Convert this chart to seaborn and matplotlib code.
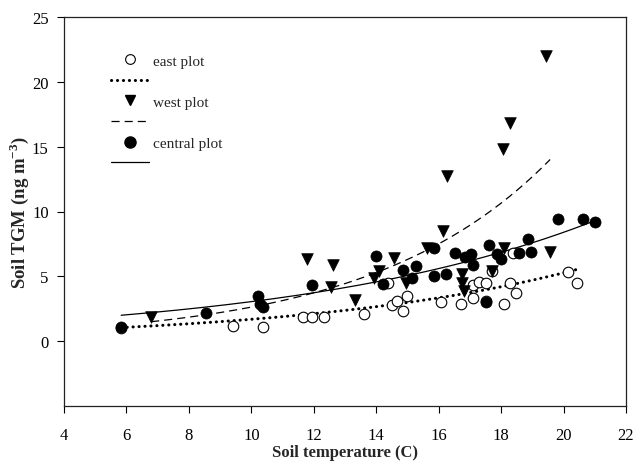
import numpy as np
import pandas as pd
import matplotlib
matplotlib.use("Agg")
import matplotlib.pyplot as plt
import seaborn as sns
from matplotlib.lines import Line2D

# ---- data ----
east_x = [5.83, 9.41, 10.37, 11.66, 11.94, 12.33, 13.61, 14.38, 14.51, 14.67, 14.86, 14.99,
          16.08, 16.72, 17.10, 17.10, 17.29, 17.52, 17.52, 17.71, 18.09, 18.29, 18.48, 18.38,
          20.14, 20.43]
east_y = [1.05, 1.15, 1.10, 1.85, 1.90, 1.90, 2.10, 4.50, 2.80, 3.10, 2.30, 3.50,
          3.00, 2.85, 4.30, 3.30, 4.60, 4.50, 3.10, 5.40, 2.85, 4.50, 3.70, 6.80,
          5.30, 4.50]

west_x = [6.79, 11.78, 12.55, 12.62, 13.32, 13.93, 14.09, 14.57, 14.95, 15.63, 16.14,
          16.27, 16.75, 16.75, 16.80, 17.71, 18.06, 18.09, 18.29, 19.44, 19.57]
west_y = [1.85, 6.30, 4.20, 5.90, 3.15, 4.85, 5.40, 6.45, 4.45, 7.20, 8.50,
          12.75, 5.20, 4.50, 3.90, 5.40, 14.85, 7.15, 16.80, 22.00, 6.90]

central_x = [5.83, 8.55, 10.20, 10.28, 10.37, 11.94, 13.99, 14.22, 14.86, 15.15, 15.27,
             15.85, 15.85, 16.24, 16.52, 16.84, 17.04, 17.10, 17.52, 17.61, 17.87, 18.00,
             18.57, 18.86, 18.96, 19.82, 20.62, 21.00]
central_y = [1.08, 2.15, 3.45, 2.90, 2.60, 4.30, 6.60, 4.40, 5.50, 4.85, 5.80,
             7.20, 5.00, 5.20, 6.80, 6.50, 6.70, 5.90, 3.05, 7.40, 6.70, 6.30,
             6.80, 7.90, 6.90, 9.40, 9.45, 9.20]

# exponential regression curves y = a * exp(b * x)
east_fit = (0.540, 0.1139)
west_fit = (0.457, 0.1749)
central_fit = (1.107, 0.1013)

x_ticks = [4, 6, 8, 10, 12, 14, 16, 18, 20, 22]
y_ticks = [0, 5, 10, 15, 20, 25]
legend_labels = ["east plot", "", "west plot", "", "central plot", ""]

# ---- style ----
sns.set_theme(style="ticks")
plt.rcParams['font.family'] = ['Liberation Serif', 'DejaVu Serif']
plt.rcParams['mathtext.fontset'] = 'custom'
plt.rcParams['mathtext.rm'] = 'Liberation Serif'
plt.rcParams['mathtext.bf'] = 'Liberation Serif:bold'

fig = plt.figure(figsize=(6.36, 4.64), dpi=100)
ax = fig.add_axes([64 / 636, 1 - 407 / 464, 562 / 636, 389 / 464])


def curve(xs, fit):
    a, b = fit
    g = np.linspace(min(xs), max(xs), 300)
    return g, a * np.exp(b * g)


gx, gy = curve(east_x, east_fit)
sns.lineplot(x=gx, y=gy, ax=ax, color='black', lw=2.2,
             linestyle=(0, (0.05, 1.9)), dash_capstyle='round', zorder=2)
gx, gy = curve(west_x, west_fit)
sns.lineplot(x=gx, y=gy, ax=ax, color='black', lw=0.9,
             linestyle=(0, (6.5, 4.0)), zorder=2)
gx, gy = curve(central_x, central_fit)
sns.lineplot(x=gx, y=gy, ax=ax, color='black', lw=0.9, linestyle='-', zorder=2)

sns.scatterplot(x=east_x, y=east_y, ax=ax, marker='o', s=58, color='white',
                edgecolor='black', linewidth=0.8, zorder=3)
sns.scatterplot(x=west_x, y=west_y, ax=ax, marker='v', s=70, color='black',
                edgecolor='black', linewidth=0.5, zorder=4)
sns.scatterplot(x=central_x, y=central_y, ax=ax, marker='o', s=64, color='black',
                edgecolor='black', linewidth=0.5, zorder=5)

ax.set_xlim(4, 22)
ax.set_ylim(-5, 25)
ax.set_xticks(x_ticks)
ax.set_yticks(y_ticks)
ax.set_xticklabels([str(t) for t in x_ticks])
ax.set_yticklabels([str(t) for t in y_ticks])
ax.tick_params(direction='out', length=5, width=0.8, colors='black',
               labelsize=12, top=False, right=False)
ax.tick_params(axis='x', pad=10)
ax.tick_params(axis='y', pad=6)
for sp in ax.spines.values():
    sp.set_visible(True)
    sp.set_color('#222222')
    sp.set_linewidth(0.9)

ax.set_xlabel("Soil temperature (C)", fontsize=12, fontweight='bold')
ax.xaxis.label.set_va('center')
ax.xaxis.set_label_coords(0.5, -(453 - 407) / 389)
ax.set_ylabel(r"Soil TGM (ng m$^{\mathbf{-3}}$)", fontsize=13.5, fontweight='bold')
ax.yaxis.label.set_va('center')
ax.yaxis.set_label_coords(-(64 - 19) / 562, 0.5)

handles = [
    Line2D([], [], marker='o', ls='none', markersize=7, markerfacecolor='white',
           markeredgecolor='black', markeredgewidth=0.8),
    Line2D([], [], color='black', lw=2.2, ls=(0, (0.05, 1.9)), dash_capstyle='round'),
    Line2D([], [], marker='v', ls='none', markersize=7.5, color='black'),
    Line2D([], [], color='black', lw=0.9, ls=(0, (6.5, 4.0))),
    Line2D([], [], marker='o', ls='none', markersize=8, color='black'),
    Line2D([], [], color='black', lw=0.9, ls='-'),
]
ax.legend(handles, legend_labels, loc='upper left', bbox_to_anchor=(0.083, 0.905),
          frameon=False, handlelength=2.5, handletextpad=0.3, labelspacing=0.45,
          borderpad=0, borderaxespad=0, fontsize=11)

fig.savefig("out.png", dpi=100)
